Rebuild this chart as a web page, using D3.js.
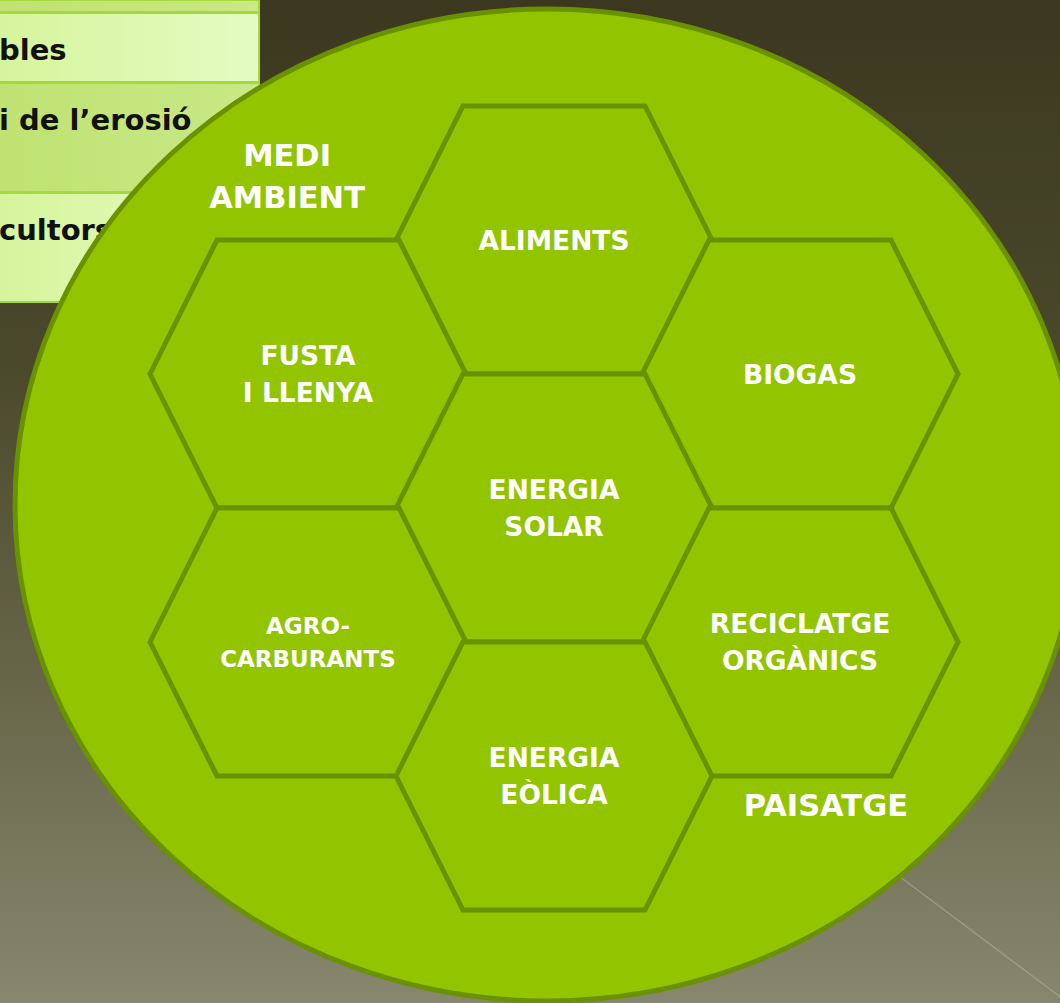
<!DOCTYPE html>
<html>
<head>
<meta charset="utf-8">
<script src="https://cdn.jsdelivr.net/npm/d3@7"></script>
<style>
  html, body { margin: 0; padding: 0; background: #3c3920; overflow: hidden; }
  svg { display: block; }
</style>
</head>
<body>
<div id="chart"></div>
<script>
// hexagon labels and their place in the honeycomb (column, half-row)
var hexNames = [["ALIMENTS"], ["FUSTA", "I LLENYA"], ["BIOGAS"], ["ENERGIA", "SOLAR"],
                ["AGRO-", "CARBURANTS"], ["RECICLATGE", "ORGÀNICS"], ["ENERGIA", "EÒLICA"]];
var hexCols = [0, -1, 1, 0, -1, 1, 0];
var hexRows = [-2, -1, -1, 0, 1, 1, 2];

// words written in the ring, outside the hexagons
var ringNames = [["MEDI", "AMBIENT"], ["PAISATGE"]];
var ringCols = [-1.085, 1.105];
var ringRows = [-2.48, 2.22];

// table rows peeking out behind the circle (left part is cut off)
var tableText = ["", "bles", "i de l’erosió", "cultors"];

var width = 1060, height = 1003;

var svg = d3.select("#chart").append("svg")
    .attr("width", width)
    .attr("height", height);

var defs = svg.append("defs");

var bg = defs.append("linearGradient").attr("id", "bg")
    .attr("x1", 0).attr("y1", 0).attr("x2", 0).attr("y2", 1);
bg.append("stop").attr("offset", "0%").attr("stop-color", "#3b381f");
bg.append("stop").attr("offset", "35%").attr("stop-color", "#4a482b");
bg.append("stop").attr("offset", "70%").attr("stop-color", "#69684b");
bg.append("stop").attr("offset", "100%").attr("stop-color", "#86876e");

var light = defs.append("linearGradient").attr("id", "rowLight");
light.append("stop").attr("offset", "0%").attr("stop-color", "#d6f49c");
light.append("stop").attr("offset", "100%").attr("stop-color", "#e4fcc2");

var mid = defs.append("linearGradient").attr("id", "rowMid");
mid.append("stop").attr("offset", "0%").attr("stop-color", "#bfe272");
mid.append("stop").attr("offset", "100%").attr("stop-color", "#c8e985");

svg.append("rect")
    .attr("width", width)
    .attr("height", height)
    .attr("fill", "url(#bg)");

// faint theme line in the lower right
svg.append("line")
    .attr("x1", 700).attr("y1", 727)
    .attr("x2", 1075).attr("y2", 1008)
    .attr("stroke", "#b4b596")
    .attr("stroke-opacity", 0.6)
    .attr("stroke-width", 1.2);

// ---- table ----
var rowTops = [0, 13, 83, 193],
    rowBottoms = [12, 82, 192, 302],
    tableRight = 259;

var table = svg.append("g");

table.selectAll(".row")
    .data(tableText)
    .enter().append("rect")
    .attr("class", "row")
    .attr("x", -5)
    .attr("y", function(d, i) { return rowTops[i]; })
    .attr("width", tableRight + 5)
    .attr("height", function(d, i) { return rowBottoms[i] - rowTops[i]; })
    .attr("fill", function(d, i) { return i % 2 ? "url(#rowLight)" : "url(#rowMid)"; })
    .attr("stroke", "#a5d83a")
    .attr("stroke-width", 2);

table.selectAll(".rowtext")
    .data(tableText)
    .enter().append("text")
    .attr("class", "rowtext")
    .attr("x", -1)
    .attr("y", function(d, i) { return rowTops[i] + 47; })
    .attr("font-family", "DejaVu Sans, sans-serif")
    .attr("font-weight", "bold")
    .attr("font-size", 29)
    .attr("fill", "#111")
    .text(function(d) { return d; });

// ---- big green disc ----
svg.append("ellipse")
    .attr("cx", 547)
    .attr("cy", 505)
    .attr("rx", 532)
    .attr("ry", 496)
    .attr("fill", "#93c400")
    .attr("stroke", "#6a9200")
    .attr("stroke-width", 5);

// ---- honeycomb ----
var x = d3.scaleLinear().domain([-1, 1]).range([308, 800]),
    y = d3.scaleLinear().domain([-2, 2]).range([240, 776]);

var R = 158, a = 91, h = 134;
var hexShape = [[-R, 0], [-a, -h], [a, -h], [R, 0], [a, h], [-a, h]];
var line = d3.line().curve(d3.curveLinearClosed);

var hexes = svg.selectAll(".hex")
    .data(hexNames)
    .enter().append("g")
    .attr("class", "hex")
    .attr("transform", function(d, i) {
      return "translate(" + x(hexCols[i]) + "," + y(hexRows[i]) + ")";
    });

hexes.append("path")
    .attr("d", line(hexShape))
    .attr("fill", "#93c400")
    .attr("stroke", "#6a9200")
    .attr("stroke-width", 5)
    .attr("stroke-linejoin", "miter");

function writeLines(sel, size, gap) {
  sel.each(function(d) {
    var t = d3.select(this).append("text")
        .attr("text-anchor", "middle")
        .attr("font-family", "DejaVu Sans, sans-serif")
        .attr("font-weight", "bold")
        .attr("font-size", size)
        .attr("fill", "#ffffff");
    d.forEach(function(s, k) {
      t.append("tspan")
          .attr("x", 0)
          .attr("y", (k - (d.length - 1) / 2) * gap + size * 0.36)
          .text(s);
    });
  });
}

writeLines(hexes.filter(function(d) { return d[0] !== "AGRO-"; }), 26.5, 37);
writeLines(hexes.filter(function(d) { return d[0] === "AGRO-"; }), 23, 33);

var ring = svg.selectAll(".ring")
    .data(ringNames)
    .enter().append("g")
    .attr("class", "ring")
    .attr("transform", function(d, i) {
      return "translate(" + x(ringCols[i]) + "," + y(ringRows[i]) + ")";
    });

writeLines(ring, 30.5, 42);
</script>
</body>
</html>
